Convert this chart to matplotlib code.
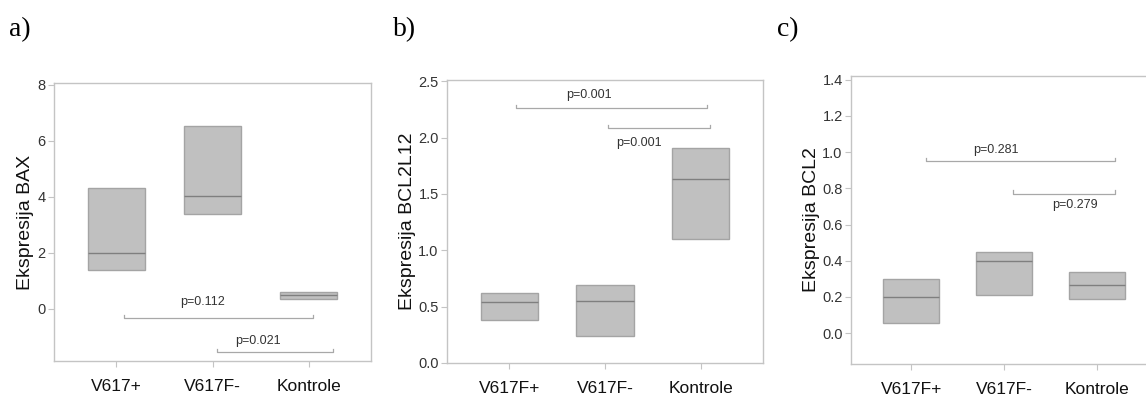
import matplotlib
matplotlib.use("Agg")
import matplotlib.pyplot as plt

plt.rcParams['font.family'] = ['Liberation Sans', 'DejaVu Sans']

# box statistics (q1, median, q3)
groups_a = ['V617+', 'V617F-', 'Kontrole']
q1_a = [1.39, 3.39, 0.36]
med_a = [2.0, 4.03, 0.5]
q3_a = [4.32, 6.53, 0.6]

groups_b = ['V617F+', 'V617F-', 'Kontrole']
q1_b = [0.38, 0.24, 1.10]
med_b = [0.54, 0.55, 1.63]
q3_b = [0.62, 0.69, 1.91]

groups_c = ['V617F+', 'V617F-', 'Kontrole']
q1_c = [0.055, 0.21, 0.19]
med_c = [0.20, 0.40, 0.265]
q3_c = [0.30, 0.45, 0.34]

# significance brackets: (x start, x end, line y, text x, text y, label)
brackets_a = [(0.08, 2.05, -0.33, 0.9, 0.25, 'p=0.112'),
              (1.05, 2.25, -1.55, 1.47, -1.14, 'p=0.021')]
brackets_b = [(0.07, 2.06, 2.26, 0.83, 2.38, 'p=0.001'),
              (1.03, 2.10, 2.08, 1.35, 1.95, 'p=0.001')]
brackets_c = [(0.16, 2.20, 0.95, 0.91, 1.01, 'p=0.281'),
              (1.10, 2.20, 0.77, 1.77, 0.71, 'p=0.279')]

W, H = 1146, 397
fig = plt.figure(figsize=(W / 100, H / 100), dpi=100)

spine_col = '#c4c4c4'
box_face = '#c0c0c0'
box_edge = '#a4a4a4'
med_col = '#7f7f7f'
brk_col = '#a8a8a8'


def panel(rect, groups, q1, med, q3, brackets, ylim, yticks, yticklabels,
          ylabel, ylabel_x, letter, letter_x, xlim=(-0.65, 2.65)):
    ax = fig.add_axes(rect)
    stats = []
    for g, a, m, b in zip(groups, q1, med, q3):
        stats.append(dict(label=g, q1=a, med=m, q3=b, whislo=a, whishi=b, fliers=[]))
    ax.bxp(stats, positions=range(len(groups)), widths=0.6, patch_artist=True,
           showcaps=False, showfliers=False,
           boxprops=dict(facecolor=box_face, edgecolor=box_edge, linewidth=1.0),
           medianprops=dict(color=med_col, linewidth=1.0),
           whiskerprops=dict(linewidth=0))
    for x0, x1, y, tx, ty, lab in brackets:
        dy = (ylim[1] - ylim[0]) * 0.012
        ax.plot([x0, x0, x1, x1], [y + dy, y, y, y + dy], color=brk_col, lw=0.9)
        ax.text(tx, ty, lab, ha='center', va='center', fontsize=9, color='#333333')
    ax.set_xlim(*xlim)
    ax.set_ylim(*ylim)
    ax.set_yticks(yticks)
    ax.set_yticklabels(yticklabels, fontsize=10.5, color='#333333')
    ax.set_xticks(range(len(groups)))
    ax.set_xticklabels(groups, fontsize=12.5, color='#111111')
    ax.tick_params(axis='both', colors=spine_col, length=4, width=0.8)
    ax.tick_params(axis='y', labelcolor='#333333', pad=2)
    ax.tick_params(axis='x', labelcolor='#111111', pad=9)
    for s in ax.spines.values():
        s.set_color(spine_col)
        s.set_linewidth(1.0)
    fig.text(ylabel_x / W, rect[1] + rect[3] / 2, ylabel, rotation=90,
             ha='center', va='center', fontsize=14, color='#111111')
    fig.text(letter_x / W, 1 - 30 / H, letter, family='Liberation Serif',
             fontsize=20, ha='left', va='center')
    return ax


panel([54 / W, 1 - 361 / H, 317 / W, 278 / H], groups_a, q1_a, med_a, q3_a,
      brackets_a, (-1.86, 8.07), [0, 2, 4, 6, 8], ['0', '2', '4', '6', '8'],
      'Ekspresija BAX', 25, 'a)', 9)

panel([447 / W, 1 - 363 / H, 316 / W, 283 / H], groups_b, q1_b, med_b, q3_b,
      brackets_b, (0, 2.51), [0, 0.5, 1.0, 1.5, 2.0, 2.5],
      ['0.0', '0.5', '1.0', '1.5', '2.0', '2.5'],
      'Ekspresija BCL2L12', 407, 'b)', 393)

panel([851 / W, 1 - 364 / H, 306 / W, 288 / H], groups_c, q1_c, med_c, q3_c,
      brackets_c, (-0.17, 1.42), [0, 0.2, 0.4, 0.6, 0.8, 1.0, 1.2, 1.4],
      ['0.0', '0.2', '0.4', '0.6', '0.8', '1.0', '1.2', '1.4'],
      'Ekspresija BCL2', 812, 'c)', 777)

fig.savefig('out.png', dpi=100)
